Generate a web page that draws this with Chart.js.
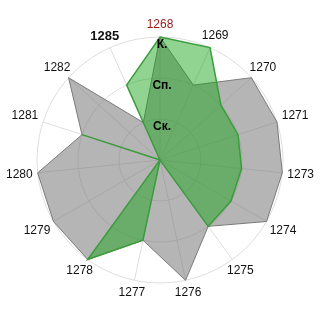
<!DOCTYPE html>
<html>
<head>
<meta charset="utf-8">
<script src="https://cdn.jsdelivr.net/npm/chart.js@4"></script>
<style>
  html, body { margin: 0; padding: 0; background: #fff; }
  #wrap { width: 320px; height: 320px; }
</style>
</head>
<body>
<div id="wrap"><canvas id="c" width="320" height="320"></canvas></div>
<script>
const categories = ['1268','1269','1270','1271','1273','1274','1275','1276','1277','1278','1279','1280','1281','1282','1285'];
const greyValues  = [3, 2, 3, 3, 3, 3, 2, 3, 2, 3, 3, 3, 2, 3, 1];
const greenValues = [3, 3, 2, 2, 2, 2, 2, 0, 2, 3, 0, 0, 2, 0, 2];
const tickNames = ['', 'Ск.', 'Сп.', 'К.'];
const highlightLabel = '1268';
const boldLabel = '1285';

const FONT = '"Liberation Sans", Arial, sans-serif';

// tick labels drawn above the datasets, just below each ring
const tickLabelPlugin = {
  id: 'tickLabelPlugin',
  afterDatasetsDraw(chart) {
    const scale = chart.scales.r;
    const ctx = chart.ctx;
    ctx.save();
    ctx.font = 'bold 12px ' + FONT;
    ctx.fillStyle = '#000';
    ctx.textAlign = 'center';
    ctx.textBaseline = 'middle';
    scale.ticks.forEach((t) => {
      const name = tickNames[t.value];
      if (!name) return;
      const r = scale.getDistanceFromCenterForValue(t.value);
      ctx.fillText(name, scale.xCenter + 2, scale.yCenter - r + 8);
    });
    ctx.restore();
  }
};

const pointLabelPlugin = {
  id: 'pointLabelPlugin',
  afterDraw(chart) {
    const scale = chart.scales.r;
    const ctx = chart.ctx;
    ctx.save();
    ctx.textAlign = 'center';
    ctx.textBaseline = 'middle';
    const pad = 5;
    categories.forEach((lab, i) => {
      const isBold = lab === boldLabel;
      ctx.font = (isBold ? 'bold 13px ' : '12px ') + FONT;
      ctx.fillStyle = lab === highlightLabel ? '#9b1a1a' : '#111';
      const p = scale.getPointPositionForValue(i, scale.max);
      const dx = (p.x - scale.xCenter) / scale.drawingArea;
      const dy = (p.y - scale.yCenter) / scale.drawingArea;
      const w = ctx.measureText(lab).width;
      const h = 14;
      const ex = Math.abs(dx) > 1e-6 ? (w / 2) / Math.abs(dx) : Infinity;
      const ey = Math.abs(dy) > 1e-6 ? (h / 2) / Math.abs(dy) : Infinity;
      const d = pad + Math.min(ex, ey);
      ctx.fillText(lab, p.x + dx * d, p.y + dy * d);
    });
    ctx.restore();
  }
};

new Chart(document.getElementById('c'), {
  type: 'radar',
  data: {
    labels: categories,
    datasets: [
      {
        data: greenValues,
        backgroundColor: 'rgba(25,165,25,0.48)',
        borderColor: '#3c9c3c',
        borderWidth: 1.5,
        pointRadius: 0,
        pointHoverRadius: 0
      },
      {
        data: greyValues,
        backgroundColor: 'rgba(120,120,120,0.55)',
        borderColor: '#7a7a7a',
        borderWidth: 1,
        pointRadius: 0,
        pointHoverRadius: 0
      }
    ]
  },
  options: {
    responsive: false,
    animation: false,
    events: [],
    layout: { padding: { left: 37, right: 37, top: 37, bottom: 37 } },
    plugins: { legend: { display: false }, tooltip: { enabled: false } },
    elements: { line: { tension: 0 } },
    scales: {
      r: {
        min: 0,
        max: 3,
        startAngle: 0,
        grid: { circular: true, color: '#dedede', lineWidth: 1 },
        angleLines: { color: '#dedede', lineWidth: 1 },
        pointLabels: { display: false },
        ticks: { stepSize: 1, display: false }
      }
    }
  },
  plugins: [tickLabelPlugin, pointLabelPlugin]
});
</script>
</body>
</html>
